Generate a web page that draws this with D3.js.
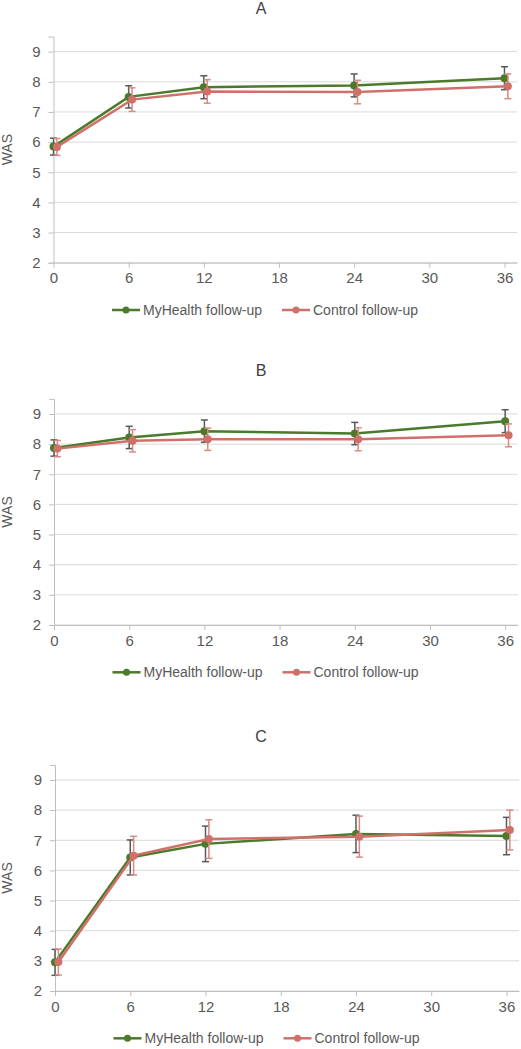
<!DOCTYPE html>
<html>
<head>
<meta charset="utf-8">
<script src="https://cdn.jsdelivr.net/npm/d3@7"></script>
<style>
  body { margin: 0; background: #fff; }
  text { font-family: "Liberation Sans", Arial, sans-serif; }
</style>
</head>
<body>
<div id="chart-area"></div>
<script>
// months of follow-up
let months = [0, 6, 12, 24, 36];
let xTicks = [0, 6, 12, 18, 24, 30, 36];
let yTicks = [2, 3, 4, 5, 6, 7, 8, 9];
let panelTitles = ["A", "B", "C"];
let seriesNames = ["MyHealth follow-up", "Control follow-up"];

// MyHealth means and error (half-width) per panel
let myHealthA = [5.85, 7.50, 7.82, 7.88, 8.12];
let myHealthErrA = [0.28, 0.37, 0.38, 0.38, 0.38];
let controlA = [5.84, 7.41, 7.68, 7.66, 7.85];
let controlErrA = [0.28, 0.39, 0.39, 0.39, 0.41];

let myHealthB = [7.87, 8.22, 8.43, 8.35, 8.76];
let myHealthErrB = [0.27, 0.37, 0.37, 0.37, 0.38];
let controlB = [7.85, 8.11, 8.16, 8.16, 8.29];
let controlErrB = [0.27, 0.37, 0.37, 0.38, 0.38];

let myHealthC = [2.95, 6.43, 6.88, 7.21, 7.14];
let myHealthErrC = [0.43, 0.58, 0.59, 0.62, 0.62];
let controlC = [2.96, 6.49, 7.04, 7.12, 7.34];
let controlErrC = [0.43, 0.64, 0.64, 0.68, 0.66];

let panels = [
	{title: panelTitles[0], mh: myHealthA, mhErr: myHealthErrA, ct: controlA, ctErr: controlErrA},
	{title: panelTitles[1], mh: myHealthB, mhErr: myHealthErrB, ct: controlB, ctErr: controlErrB},
	{title: panelTitles[2], mh: myHealthC, mhErr: myHealthErrC, ct: controlC, ctErr: controlErrC}
];

// layout of each panel: left edge of plot, bottom (y=2) line
let layout = [
	{left: 53.5, right: 517, bottom: 262.7},
	{left: 54, right: 517.7, bottom: 625},
	{left: 55, right: 519, bottom: 991}
];

let green = "#4a7a2a";
let red = "#d0706a";
let greenErr = "#595959";
let redErr = "#d98a83";
let textColor = "#595959";

let svg = d3.select("#chart-area").append("svg")
	.attr("width", 521)
	.attr("height", 1049);

panels.forEach((p, i) => drawPanel(p, layout[i]));

function drawPanel(p, lay) {
	let unit = 30.15;
	let top = lay.bottom - 7.5 * unit;

	let x = d3.scaleLinear().domain([0, 37]).range([lay.left, lay.right]);
	let y = d3.scaleLinear().domain([2, 9.5]).range([lay.bottom, top]);

	let g = svg.append("g");

	// gridlines
	g.selectAll(".grid").data(yTicks).enter()
		.append("line")
		.attr("x1", lay.left).attr("x2", lay.right)
		.attr("y1", d => y(d)).attr("y2", d => y(d))
		.attr("stroke", "#d9d9d9").attr("stroke-width", 1);

	// y axis
	let yAxis = d3.axisLeft(y).tickValues(yTicks).tickSize(5).tickPadding(8);
	let ya = g.append("g")
		.attr("transform", "translate(" + lay.left + ",0)")
		.call(yAxis);
	ya.select(".domain").attr("stroke", "#bfbfbf");
	ya.selectAll(".tick line").attr("stroke", "#bfbfbf");
	ya.selectAll(".tick text").attr("fill", textColor).style("font-size", "15px");

	// x axis
	let xAxis = d3.axisBottom(x).tickValues(xTicks).tickSize(5).tickPadding(5).tickSizeOuter(0);
	let xa = g.append("g")
		.attr("transform", "translate(0," + lay.bottom + ")")
		.call(xAxis);
	xa.select(".domain").attr("stroke", "#bfbfbf");
	xa.selectAll(".tick line").attr("stroke", "#bfbfbf");
	xa.selectAll(".tick text").attr("fill", textColor).style("font-size", "15px");

	// title
	g.append("text")
		.attr("x", 261).attr("y", top - 23)
		.attr("text-anchor", "middle")
		.attr("fill", "#404040")
		.style("font-size", "16px")
		.text(p.title);

	// y label
	g.append("text")
		.attr("transform", "translate(12," + ((top + lay.bottom) / 2) + ") rotate(-90)")
		.attr("text-anchor", "middle")
		.attr("fill", textColor)
		.style("font-size", "14px")
		.text("WAS");

	let series = [
		{vals: p.mh, err: p.mhErr, color: green, errColor: greenErr, shift: 0},
		{vals: p.ct, err: p.ctErr, color: red, errColor: redErr, shift: 0.27}
	];

	series.forEach(s => {
		let pts = months.map((m, j) => ({m: m + s.shift, v: s.vals[j], e: s.err[j]}));

		let bars = g.append("g");
		bars.selectAll("line.v").data(pts).enter().append("line")
			.attr("x1", d => x(d.m)).attr("x2", d => x(d.m))
			.attr("y1", d => y(d.v - d.e)).attr("y2", d => y(d.v + d.e))
			.attr("stroke", s.errColor).attr("stroke-width", 1.5);
		[-1, 1].forEach(sign => {
			bars.selectAll("line.c" + sign).data(pts).enter().append("line")
				.attr("x1", d => x(d.m) - 3.5).attr("x2", d => x(d.m) + 3.5)
				.attr("y1", d => y(d.v + sign * d.e)).attr("y2", d => y(d.v + sign * d.e))
				.attr("stroke", s.errColor).attr("stroke-width", 1.5);
		});

		let line = d3.line().x(d => x(d.m)).y(d => y(d.v));
		g.append("path").datum(pts)
			.attr("d", line)
			.attr("fill", "none")
			.attr("stroke", s.color)
			.attr("stroke-width", 2.5);

		g.selectAll(null).data(pts).enter().append("circle")
			.attr("cx", d => x(d.m)).attr("cy", d => y(d.v))
			.attr("r", 4)
			.attr("fill", s.color);
	});

	// legend
	let ly = lay.bottom + 47.3;
	let legendX = [112, 282];
	seriesNames.forEach((name, k) => {
		let c = k === 0 ? green : red;
		let lx = legendX[k] + (lay.left - 53.5);
		g.append("line")
			.attr("x1", lx).attr("x2", lx + 28)
			.attr("y1", ly).attr("y2", ly)
			.attr("stroke", c).attr("stroke-width", 2.5);
		g.append("circle")
			.attr("cx", lx + 14).attr("cy", ly).attr("r", 3.5)
			.attr("fill", c);
		g.append("text")
			.attr("x", lx + 31).attr("y", ly + 5)
			.attr("fill", textColor)
			.style("font-size", "14px")
			.text(name);
	});
}
</script>
</body>
</html>
